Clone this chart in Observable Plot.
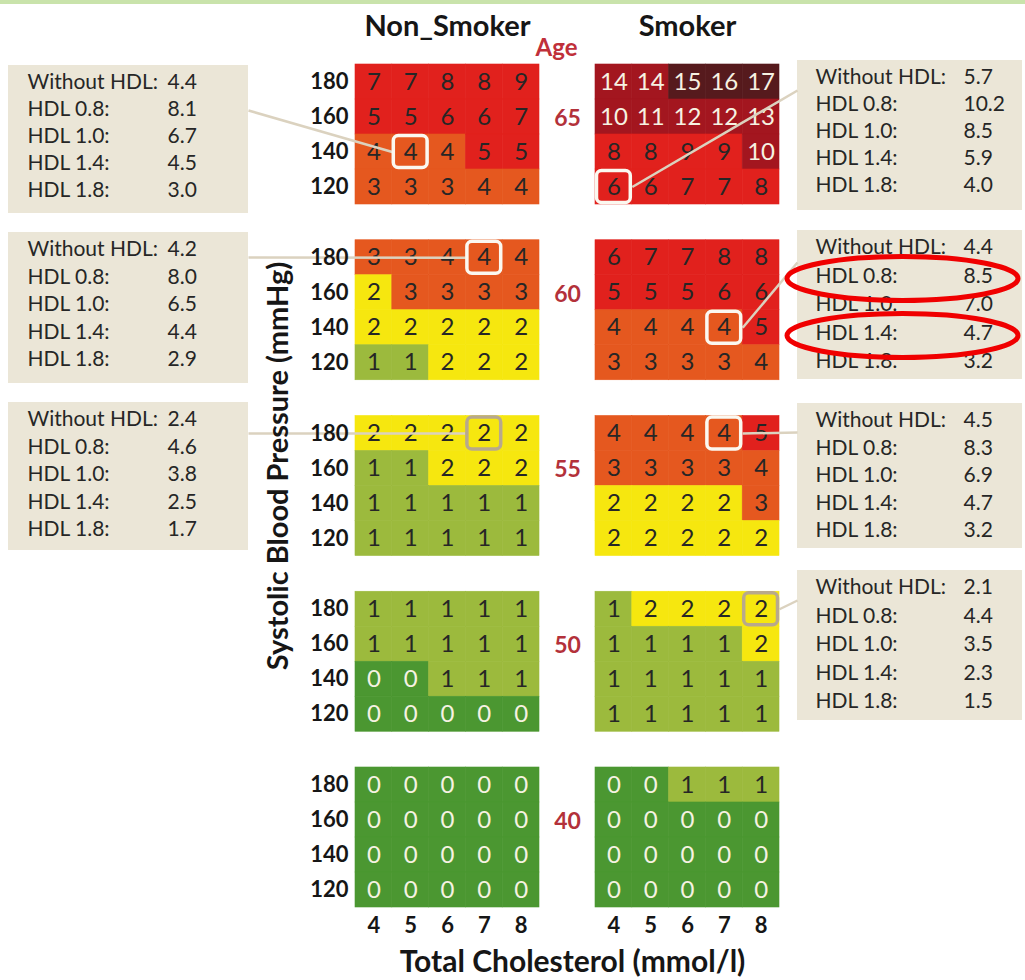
<!DOCTYPE html>
<html>
<head>
<meta charset="utf-8">
<script src="https://cdn.jsdelivr.net/npm/d3@7"></script>
<script src="https://cdn.jsdelivr.net/npm/@observablehq/plot@0.6"></script>
<style>
html, body { margin: 0; padding: 0; background: #ffffff; }
#chart { width: 1025px; height: 980px; }
</style>
</head>
<body>
<div id="chart"></div>
<script>
// ---------------- DATA ----------------
const cholesterol = [4, 5, 6, 7, 8];          // Total cholesterol (mmol/l), columns
const systolic = [180, 160, 140, 120];        // Systolic BP (mmHg), rows top->bottom
const ages = [65, 60, 55, 50, 40];
const panels = ["Non_Smoker", "Smoker"];

const nonSmoker65 = [[7,7,8,8,9],[5,5,6,6,7],[4,4,4,5,5],[3,3,3,4,4]];
const nonSmoker60 = [[3,3,4,4,4],[2,3,3,3,3],[2,2,2,2,2],[1,1,2,2,2]];
const nonSmoker55 = [[2,2,2,2,2],[1,1,2,2,2],[1,1,1,1,1],[1,1,1,1,1]];
const nonSmoker50 = [[1,1,1,1,1],[1,1,1,1,1],[0,0,1,1,1],[0,0,0,0,0]];
const nonSmoker40 = [[0,0,0,0,0],[0,0,0,0,0],[0,0,0,0,0],[0,0,0,0,0]];
const smoker65 = [[14,14,15,16,17],[10,11,12,12,13],[8,8,9,9,10],[6,6,7,7,8]];
const smoker60 = [[6,7,7,8,8],[5,5,5,6,6],[4,4,4,4,5],[3,3,3,3,4]];
const smoker55 = [[4,4,4,4,5],[3,3,3,3,4],[2,2,2,2,3],[2,2,2,2,2]];
const smoker50 = [[1,2,2,2,2],[1,1,1,1,2],[1,1,1,1,1],[1,1,1,1,1]];
const smoker40 = [[0,0,1,1,1],[0,0,0,0,0],[0,0,0,0,0],[0,0,0,0,0]];

// HDL call-out boxes
const hdlLabels = ["Without HDL:", "HDL 0.8:", "HDL 1.0:", "HDL 1.4:", "HDL 1.8:"];
const annPanel = ["Non_Smoker","Non_Smoker","Non_Smoker","Smoker","Smoker","Smoker","Smoker"];
const annAge   = [65, 60, 55, 65, 60, 55, 50];
const annChol  = [5, 7, 7, 4, 7, 7, 8];
const annBp    = [140, 180, 180, 120, 140, 180, 180];
const hdlWithout = [4.4, 4.2, 2.4, 5.7, 4.4, 4.5, 2.1];
const hdl08      = [8.1, 8.0, 4.6, 10.2, 8.5, 8.3, 4.4];
const hdl10      = [6.7, 6.5, 3.8, 8.5, 7.0, 6.9, 3.5];
const hdl14      = [4.5, 4.4, 2.5, 5.9, 4.7, 4.7, 2.3];
const hdl18      = [3.0, 2.9, 1.7, 4.0, 3.2, 3.2, 1.5];
// red circled lines (box index, line index)
const circledBox  = [4, 4];
const circledLine = [1, 3];

// ---------------- STYLE / LAYOUT ----------------
const riskBreaks = [1, 2, 3, 5, 10, 15];
const riskColors = ["#4b9731", "#9cba3d", "#f6e70f", "#e5581f", "#e1211d", "#a3161f", "#561a1d"];

const W = 1025, H = 980;
const M = {top: 64, right: 246, bottom: 73, left: 355};
const fxPad = 56 / 240, fyPad = 35.75 / 175.75;
const cStep = cholesterol[1] - cholesterol[0];
const bStep = systolic[0] - systolic[1];
const xDomain = [d3.min(cholesterol) - cStep / 2, d3.max(cholesterol) + cStep / 2];
const yDomain = [d3.min(systolic) - bStep / 2, d3.max(systolic) + bStep / 2];

const fxStep = (W - M.left - M.right) / (panels.length - fxPad);
const fxBand = fxStep * (1 - fxPad);
const fyStep = (H - M.top - M.bottom) / (ages.length - fyPad);
const fyBand = fyStep * (1 - fyPad);
const facetLeft = p => M.left + panels.indexOf(p) * fxStep;
const facetTop = a => M.top + ages.indexOf(a) * fyStep;
// page pixel -> data coordinate inside a facet (for annotations placed in the margins)
const xAt = (px, p) => xDomain[0] + (px - facetLeft(p)) / fxBand * (xDomain[1] - xDomain[0]);
const yAt = (py, a) => yDomain[1] - (py - facetTop(a)) / fyBand * (yDomain[1] - yDomain[0]);

const ringWhite = "#fbf8f0", ringTan = "#b8a98c";
const boxLayout = [
  {x0: 8,   x1: 248,  y0: 65,  y1: 213, ay: 110, ring: ringWhite, gap: 27},
  {x0: 8,   x1: 248,  y0: 232, y1: 383, ay: 257, ring: ringWhite, gap: 27.5},
  {x0: 8,   x1: 248,  y0: 402, y1: 550, ay: 433, ring: ringTan,   gap: 27.5},
  {x0: 797, x1: 1022, y0: 60,  y1: 210, ay: 90,  ring: ringWhite, gap: 27},
  {x0: 797, x1: 1022, y0: 230, y1: 379, ay: 262, ring: ringWhite, gap: 28.5},
  {x0: 797, x1: 1022, y0: 403, y1: 548, ay: 432, ring: ringWhite, gap: 27.5},
  {x0: 797, x1: 1022, y0: 570, y1: 720, ay: 600, ring: ringTan,   gap: 28.5}
];
const firstLine = 17;

// ---------------- BUILD TABLES ----------------
const tables = {
  Non_Smoker: {65: nonSmoker65, 60: nonSmoker60, 55: nonSmoker55, 50: nonSmoker50, 40: nonSmoker40},
  Smoker: {65: smoker65, 60: smoker60, 55: smoker55, 50: smoker50, 40: smoker40}
};
const cells = [];
for (const panel of panels) for (const age of ages) {
  tables[panel][age].forEach((row, r) => row.forEach((risk, c) => {
    cells.push({panel, age, bp: systolic[r], chol: cholesterol[c], risk});
  }));
}

const boxes = annPanel.map((panel, i) => ({
  panel, age: annAge[i], chol: annChol[i], bp: annBp[i],
  values: [hdlWithout[i], hdl08[i], hdl10[i], hdl14[i], hdl18[i]],
  left: panel === "Non_Smoker",
  ...boxLayout[i]
}));
const lines = boxes.flatMap(b => hdlLabels.map((label, j) => ({
  panel: b.panel, age: b.age, label, value: b.values[j].toFixed(1),
  lx: b.x0 + (b.left ? 19 : 18), vx: b.x0 + (b.left ? 159 : 166),
  ly: b.y0 + firstLine + j * b.gap
})));
const links = boxes.map(b => ({
  panel: b.panel, age: b.age,
  x1: xAt(b.left ? b.x1 : b.x0, b.panel), y1: yAt(b.ay, b.age),
  x2: b.left ? b.chol - cStep / 2 : b.chol + cStep / 2, y2: b.bp
}));
const circles = circledBox.map((bi, k) => {
  const b = boxes[bi];
  const cy = b.y0 + firstLine + circledLine[k] * b.gap + 3;
  return {panel: b.panel, age: b.age, x1: xAt(b.x0 - 10, b.panel), x2: xAt(b.x1 - 4, b.panel),
          y1: yAt(cy - 22, b.age), y2: yAt(cy + 22, b.age)};
});

const cellX1 = d => d.chol - cStep / 2, cellX2 = d => d.chol + cStep / 2;
const cellY1 = d => d.bp - bStep / 2, cellY2 = d => d.bp + bStep / 2;
const lightText = d => d.risk < riskBreaks[0] || d.risk >= riskBreaks[4];

const chart = Plot.plot({
  width: W, height: H,
  marginTop: M.top, marginRight: M.right, marginBottom: M.bottom, marginLeft: M.left,
  style: {
    fontFamily: "Lato, 'Open Sans', sans-serif",
    background: "linear-gradient(#c9e3ab 0px, #c9e3ab 4px, #ffffff 4px)",
    color: "#161616",
    overflow: "visible"
  },
  fx: {domain: panels, paddingInner: fxPad, paddingOuter: 0, round: false},
  fy: {domain: ages, paddingInner: fyPad, paddingOuter: 0, round: false, axis: null},
  x: {domain: xDomain},
  y: {domain: yDomain},
  color: {type: "threshold", domain: riskBreaks, range: riskColors},
  marks: [
    // risk cells
    Plot.rect(cells, {x1: cellX1, x2: cellX2, y1: cellY1, y2: cellY2, fx: "panel", fy: "age",
      fill: "risk", stroke: "risk", strokeWidth: 0.6}),
    Plot.text(cells, {filter: d => !lightText(d), x: "chol", y: "bp", fx: "panel", fy: "age",
      text: "risk", fill: "#262626", fontSize: 24}),
    Plot.text(cells, {filter: lightText, x: "chol", y: "bp", fx: "panel", fy: "age",
      text: "risk", fill: "#f6f2e2", fontSize: 24}),
    // call-out boxes
    Plot.rect(boxes, {x1: b => xAt(b.x0, b.panel), x2: b => xAt(b.x1, b.panel),
      y1: b => yAt(b.y0, b.age), y2: b => yAt(b.y1, b.age), fx: "panel", fy: "age", fill: "#ebe6d7"}),
    Plot.text(lines, {x: d => xAt(d.lx, d.panel), y: d => yAt(d.ly, d.age), fx: "panel", fy: "age",
      text: "label", textAnchor: "start", fontSize: 21, fill: "#262626"}),
    Plot.text(lines, {x: d => xAt(d.vx, d.panel), y: d => yAt(d.ly, d.age), fx: "panel", fy: "age",
      text: "value", textAnchor: "start", fontSize: 21, fill: "#262626"}),
    // connectors
    Plot.link(links, {x1: "x1", y1: "y1", x2: "x2", y2: "y2", fx: "panel", fy: "age",
      stroke: "#dbd2bf", strokeWidth: 2.5}),
    // highlighted cells
    Plot.rect(boxes, {filter: b => b.ring === ringWhite, x1: cellX1, x2: cellX2, y1: cellY1, y2: cellY2,
      fx: "panel", fy: "age", fill: "none", stroke: ringWhite, strokeWidth: 3.5, rx: 5, inset: 1.5}),
    Plot.rect(boxes, {filter: b => b.ring === ringTan, x1: cellX1, x2: cellX2, y1: cellY1, y2: cellY2,
      fx: "panel", fy: "age", fill: "none", stroke: ringTan, strokeWidth: 3.5, rx: 5, inset: 1.5}),
    // red ellipses
    Plot.rect(circles, {x1: "x1", x2: "x2", y1: "y1", y2: "y2", fx: "panel", fy: "age",
      fill: "none", stroke: "#f00000", strokeWidth: 5, rx: 400, ry: 400}),
    // axes
    Plot.axisX({ticks: cholesterol, tickFormat: d => String(d), tickSize: 0, tickPadding: 10,
      fontSize: 22, fontWeight: "bold", label: null}),
    Plot.axisY({ticks: systolic, tickFormat: d => String(d), tickSize: 0, tickPadding: 7,
      fontSize: 22, fontWeight: "bold", label: null}),
    Plot.axisFx({anchor: "top", tickSize: 0, tickPadding: 29, fontSize: 29, fontWeight: "bold", label: null}),
    // age labels
    Plot.text(ages, {fx: () => panels[0], fy: d => d, text: d => String(d), frameAnchor: "right",
      textAnchor: "middle", lineAnchor: "middle", dx: 28, dy: -16, fontSize: 23, fontWeight: "bold", fill: "#b3313a"}),
    Plot.text([{panel: panels[0], age: ages[0], t: "Age"}], {fx: "panel", fy: "age", text: "t",
      frameAnchor: "top-right", textAnchor: "middle", lineAnchor: "middle", dx: 17, dy: -16,
      fontSize: 24, fontWeight: "bold", fill: "#c0303a"}),
    // axis titles
    Plot.text([{panel: panels[0], age: ages[4], t: "Total Cholesterol (mmol/l)"}], {fx: "panel", fy: "age", text: "t",
      frameAnchor: "bottom-right", textAnchor: "middle", lineAnchor: "middle", dx: 33, dy: 55,
      fontSize: 30, fontWeight: "bold", fill: "#161616"}),
    Plot.text([{panel: panels[0], age: ages[2], t: "Systolic Blood Pressure (mmHg)"}], {fx: "panel", fy: "age", text: "t",
      frameAnchor: "left", textAnchor: "middle", lineAnchor: "middle", rotate: -90, dx: -77, dy: -20,
      fontSize: 29, fontWeight: "bold", fill: "#161616"})
  ]
});
document.getElementById("chart").appendChild(chart);
</script>
</body>
</html>
